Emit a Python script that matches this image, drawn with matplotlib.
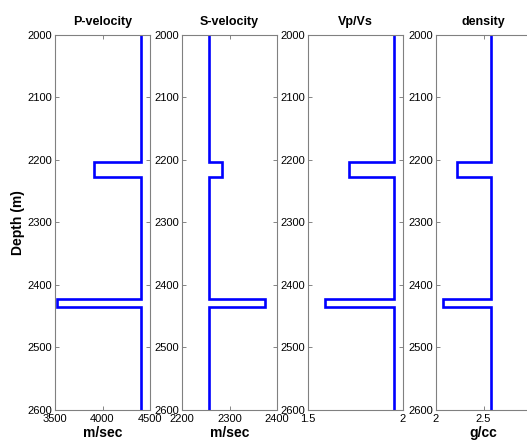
import matplotlib
matplotlib.use("Agg")
import matplotlib.pyplot as plt
import numpy as np

plt.rcParams['font.family'] = ['Liberation Sans', 'DejaVu Sans']

# Layer boundaries (m): two thin layers inside a uniform background
layer_tops = [2203, 2422]
layer_bases = [2227, 2435]
depth_range = (2000, 2600)

# Log values: background value, then value inside each layer
p_vel = [4400, 3910, 3520]        # m/sec
s_vel = [2256, 2284, 2375]        # m/sec
vp_vs = [1.954, 1.715, 1.59]
density = [2.58, 2.22, 2.07]      # g/cc

titles = ["P-velocity", "S-velocity", "Vp/Vs", "density"]
xlabels = ["m/sec", "m/sec", "", "g/cc"]
xlims = [(3500, 4500), (2200, 2400), (1.5, 2.0), (2.0, 3.0)]
xticks = [[3500, 4000, 4500], [2200, 2300, 2400], [1.5, 2.0], [2.0, 2.5]]
xticklabels = [["3500", "4000", "4500"], ["2200", "2300", "2400"],
               ["1.5", "2"], ["2", "2.5"]]
yticks = [2000, 2100, 2200, 2300, 2400, 2500, 2600]


def blocky_log(values):
    """Return (value, depth) arrays for a step log."""
    bg = values[0]
    d = [depth_range[0]]
    v = [bg]
    for top, base, val in zip(layer_tops, layer_bases, values[1:]):
        d += [top, top, base, base]
        v += [bg, val, val, bg]
    d.append(depth_range[1])
    v.append(bg)
    return np.array(v), np.array(d)


W, H = 527, 440
fig = plt.figure(figsize=(W / 100, H / 100), dpi=100)

lefts = [55, 182, 308, 436]
ax_w = 95
top_px, bot_px = 35, 410

for i, vals in enumerate([p_vel, s_vel, vp_vs, density]):
    ax = fig.add_axes([lefts[i] / W, 1 - bot_px / H, ax_w / W, (bot_px - top_px) / H])
    v, d = blocky_log(vals)
    ax.plot(v, d, color="#0000ff", lw=1.9, solid_joinstyle="miter")
    ax.set_xlim(*xlims[i])
    ax.set_ylim(depth_range[1], depth_range[0])
    ax.set_xticks(xticks[i])
    ax.set_xticklabels(xticklabels[i])
    ax.set_yticks(yticks)
    ax.set_yticklabels([str(t) for t in yticks])
    ax.tick_params(direction="in", length=3, width=0.6, color="#707070",
                   labelsize=8, top=True, right=True, pad=2)
    ax.tick_params(axis="x", pad=3)
    for sp in ax.spines.values():
        sp.set_color("#808080")
        sp.set_linewidth(0.8)
    ax.set_title(titles[i], fontsize=9, fontweight="bold", pad=7)
    if xlabels[i]:
        ax.set_xlabel(xlabels[i], fontsize=10, fontweight="bold", labelpad=1)
    if i == 0:
        ax.set_ylabel("Depth (m)", fontsize=10, fontweight="bold", labelpad=2)

fig.savefig("out.png", dpi=100)
